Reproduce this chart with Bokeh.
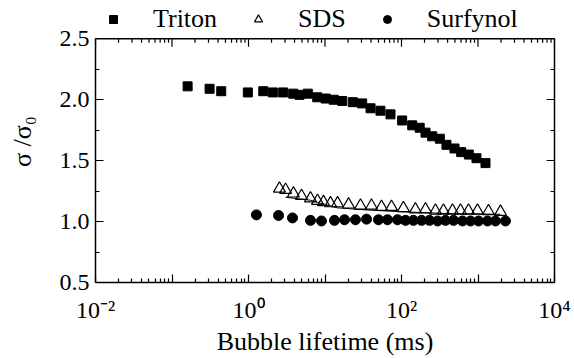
from bokeh.plotting import figure
from bokeh.models import Range1d, FixedTicker, LinearAxis, Legend, LegendItem, Span
from bokeh.embed import file_html
from bokeh.resources import INLINE

# Triton
triton_t = [0.16, 0.31, 0.44, 0.98, 1.56, 2.08, 2.84, 3.84, 4.64, 5.96, 7.91, 10.2, 13.0, 16.8,
            23.1, 30.6, 39.4, 53.1, 71.8, 102, 138, 173, 206, 252, 317, 387, 493, 603, 759, 955, 1253]
triton_s = [2.11, 2.09, 2.07, 2.06, 2.07, 2.06, 2.06, 2.05, 2.04, 2.05, 2.02, 2.01, 2.00, 1.99,
            1.98, 1.97, 1.93, 1.91, 1.88, 1.83, 1.79, 1.77, 1.73, 1.70, 1.68, 1.63, 1.60, 1.57, 1.55, 1.52, 1.48]
# SDS
sds_t = [2.54, 3.05, 3.87, 4.93, 6.46, 7.98, 9.55, 11.8, 14.6, 20.3, 29.1, 40.5, 54.8, 74.0,
         106, 152, 206, 278, 354, 464, 590, 751, 985, 1371, 1968]
sds_s = [1.27, 1.26, 1.23, 1.21, 1.19, 1.17, 1.16, 1.15, 1.15, 1.14, 1.13, 1.13, 1.12, 1.12,
         1.11, 1.10, 1.10, 1.09, 1.09, 1.09, 1.09, 1.09, 1.09, 1.085, 1.08]
# SDS fit line
fit_t = [3.05, 6.46, 14.4, 35.6, 97, 437, 1968]
fit_s = [1.20, 1.175, 1.113, 1.095, 1.081, 1.065, 1.06]
# Surfynol
surf_t = [1.27, 2.47, 3.76, 6.46, 9.0, 13.3, 18.0, 25.0, 34.9, 50.0, 65.6, 88.7, 113, 143,
          183, 232, 296, 376, 479, 627, 798, 1016, 1330, 1694, 2287]
surf_s = [1.055, 1.05, 1.03, 1.01, 1.005, 1.01, 1.015, 1.015, 1.02, 1.015, 1.015, 1.015, 1.01, 1.01,
          1.01, 1.01, 1.005, 1.01, 1.01, 1.005, 1.005, 1.005, 1.005, 1.005, 1.005]

series_names = ["Triton", "SDS", "Surfynol"]
x_major = [0.01, 0.1, 1, 10, 100, 1000, 10000]
x_labels = {0.01: "10\u207b\u00b2", 0.1: "", 1: "10\u2070", 10: "", 100: "10\u00b2", 1000: "", 10000: "10\u2074"}
y_major = [0.5, 1.0, 1.5, 2.0, 2.5]
y_minor = [0.75, 1.25, 1.75, 2.25]
Y_MIN, Y_MAX = 0.5, 2.5

FONT = "'Liberation Serif', 'Times New Roman', serif"

# geometry: plot box 248 px tall for 0.5..2.5, with a 39 px legend strip above it
BOX_H = 248
TOP_STRIP = 39
px_per_unit = BOX_H / (Y_MAX - Y_MIN)
y_top = Y_MAX + TOP_STRIP / px_per_unit

p = figure(width=574, height=358, x_axis_type="log", output_backend="svg", toolbar_location=None,
           x_range=Range1d(0.01, 10000), y_range=Range1d(Y_MIN, y_top),
           min_border_left=95, min_border_right=20, min_border_top=0, min_border_bottom=71)
p.grid.visible = False
p.outline_line_color = None

x_minor = [m * d for d in x_major[:-1] for m in range(2, 10)]
xt = FixedTicker(ticks=x_major, minor_ticks=x_minor)
yt = FixedTicker(ticks=y_major, minor_ticks=y_minor)

MAJ, MIN = 8, 4

def style(ax):
    ax.axis_line_width = 1.5
    ax.axis_line_color = "black"
    ax.major_tick_in = MAJ
    ax.major_tick_out = 0
    ax.minor_tick_in = MIN
    ax.minor_tick_out = 0
    ax.major_tick_line_width = 1.2
    ax.minor_tick_line_width = 1.2
    ax.major_tick_line_color = "black"
    ax.minor_tick_line_color = "black"
    ax.major_label_text_font = FONT
    ax.major_label_text_font_size = "24px"
    ax.major_label_text_font_style = "normal"
    ax.major_label_text_color = "black"
    ax.axis_label_text_font = FONT
    ax.axis_label_text_font_size = "26px"
    ax.axis_label_text_font_style = "normal"
    ax.axis_label_text_color = "black"

xa = p.xaxis[0]
xa.ticker = xt
xa.major_label_overrides = x_labels
xa.axis_label = "Bubble lifetime (ms)"
xa.major_label_standoff = 14
xa.axis_label_standoff = 1
style(xa)

ya = p.yaxis[0]
ya.ticker = yt
ya.bounds = (Y_MIN, Y_MAX)
ya.major_label_overrides = {0.5: "0.5", 1: "1.0", 1.5: "1.5", 2: "2.0", 2.5: "2.5"}
ya.axis_label = "\u03c3 /\u03c3\u2080"
ya.major_label_standoff = 6
ya.axis_label_standoff = 20
style(ya)

ra = LinearAxis(ticker=yt, bounds=(Y_MIN, Y_MAX))
style(ra)
ra.major_label_overrides = {0.5: "", 1: "", 1.5: "", 2: "", 2.5: ""}
ra.major_label_standoff = 0
p.add_layout(ra, "right")

# top edge of the box and its inward ticks
p.add_layout(Span(location=Y_MAX, dimension="width", line_color="black", line_width=1.5))
top_major_len = MAJ / px_per_unit
top_minor_len = MIN / px_per_unit
p.segment(x0=x_major, y0=[Y_MAX] * len(x_major), x1=x_major, y1=[Y_MAX - top_major_len] * len(x_major),
          line_color="black", line_width=1.2)
p.segment(x0=x_minor, y0=[Y_MAX] * len(x_minor), x1=x_minor, y1=[Y_MAX - top_minor_len] * len(x_minor),
          line_color="black", line_width=1.2)

p.line(fit_t, fit_s, line_color="black", line_width=1)
r1 = p.scatter(triton_t, triton_s, marker="square", size=9, fill_color="black", line_color="black")
r2 = p.scatter(sds_t, sds_s, marker="triangle", size=12, fill_color=None, line_color="black", line_width=1.2)
r3 = p.scatter(surf_t, surf_s, marker="circle", size=10, fill_color="black", line_color="black")

legend = Legend(items=[LegendItem(label=n, renderers=[r]) for n, r in zip(series_names, [r1, r2, r3])],
                orientation="horizontal", location=(8, 248),
                label_text_font=FONT, label_text_font_size="26px", label_text_font_style="normal",
                label_text_color="black",
                glyph_width=20, glyph_height=20, label_standoff=30, spacing=31,
                padding=0, margin=0, border_line_color=None, background_fill_color=None)
p.add_layout(legend, "center")

open("out.html", "w").write(file_html(p, INLINE))
